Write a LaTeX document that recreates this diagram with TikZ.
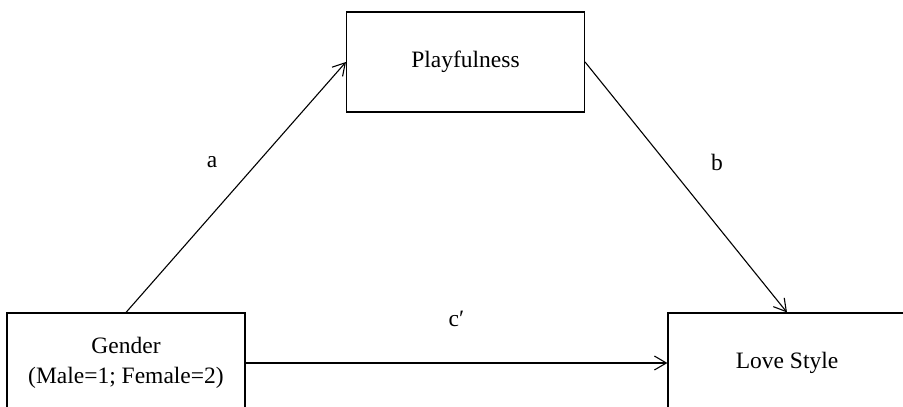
\documentclass[tikz,border=0pt]{standalone}
\usepackage{fontspec}
\setmainfont{Liberation Serif}
\usetikzlibrary{arrows.meta}
\begin{document}
\begin{tikzpicture}[x=1pt,y=-1pt,line width=1.1pt,
  font=\fontsize{23.5}{30}\selectfont,
  varblock/.style={draw,rectangle,inner sep=2pt,minimum width=238pt,minimum height=100pt,align=center,line width=1.1pt},
  path/.style={-{Straight Barb[length=12pt,width=14pt,line width=1.1pt]}}]
\useasboundingbox (0,0) rectangle (903,407);
\clip (0,0) rectangle (903,407);

\draw (465.5,62) node[varblock] (play) {Playfulness};
\draw (126,363) node[varblock] (gender) {Gender\\(Male=1; Female=2)};
\draw (787,363) node[varblock] (love) {Love Style};

\draw[path] (gender.north) -- node[pos=.5,xshift=-24pt,yshift=25pt] (la) {a} (play.west);
\draw[path] (play.east) -- node[pos=.5,xshift=31pt,yshift=25pt] (lb) {b} (love.north);
\draw[path] (gender.east) -- node[pos=.5,above=32pt] (lc) {c′} (love.west);
\end{tikzpicture}
\end{document}
